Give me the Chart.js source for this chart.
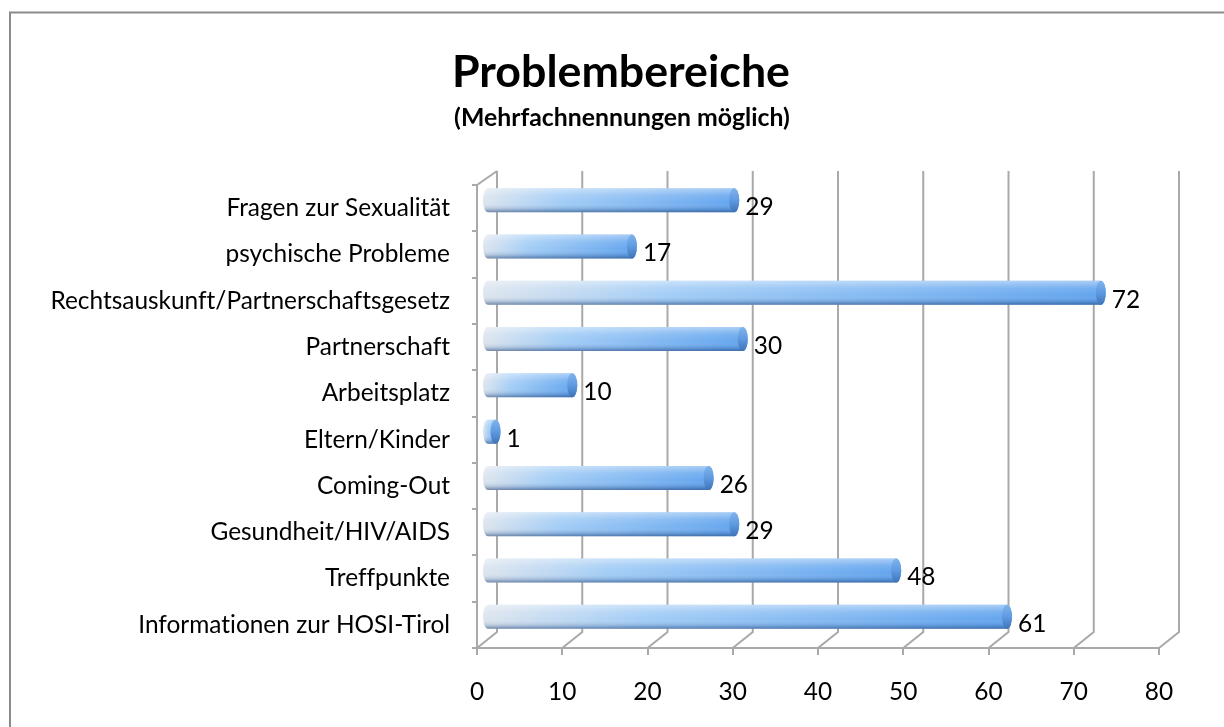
<!DOCTYPE html>
<html>
<head>
<meta charset="utf-8">
<script src="https://cdn.jsdelivr.net/npm/chart.js@4.4.1/dist/chart.umd.min.js"></script>
<style>
    html, body { margin: 0; padding: 0; background: #fff; }
    #wrap { width: 1224px; height: 727px; }
</style>
</head>
<body>
<div id="wrap"><canvas id="problemChart" width="1224" height="727"></canvas></div>
<script>
// ==================== DONNÉES ====================
const kategorien = [
    "Fragen zur Sexualität",
    "psychische Probleme",
    "Rechtsauskunft/Partnerschaftsgesetz",
    "Partnerschaft",
    "Arbeitsplatz",
    "Eltern/Kinder",
    "Coming-Out",
    "Gesundheit/HIV/AIDS",
    "Treffpunkte",
    "Informationen zur HOSI-Tirol"
];
const nennungen = [29, 17, 72, 30, 10, 1, 26, 29, 48, 61];
const achsenWerte = [0, 10, 20, 30, 40, 50, 60, 70, 80];

const titel = "Problembereiche";
const untertitel = "(Mehrfachnennungen möglich)";

// ==================== STYLE ====================
const FAMILIE = "Lato, 'Open Sans', sans-serif";
const GITTER = "#a9a9a9";
const TIEFE_X = 20;   // profondeur 3D
const TIEFE_Y = 16;

// taille de police ajustée sur une largeur cible
function passendeGroesse(text, gewicht, breite) {
    const c = document.createElement("canvas").getContext("2d");
    c.textRendering = "optimizeSpeed";
    c.font = gewicht + " 100px " + FAMILIE;
    return 100 * breite / c.measureText(text).width;
}

const schriftLabel = passendeGroesse("Informationen zur HOSI-Tirol", "normal", 312);
const schriftTitel = passendeGroesse(titel, "bold", 338);
const schriftUnter = passendeGroesse(untertitel, "bold", 336);

// ==================== CADRE + TITRES ====================
const rahmen = {
    id: "rahmen",
    beforeDraw(chart) {
        const ctx = chart.ctx;
        ctx.textRendering = "optimizeSpeed";   // pas de ligatures
        ctx.save();
        ctx.fillStyle = "#fff";
        ctx.fillRect(0, 0, chart.width, chart.height);
        ctx.strokeStyle = "#8a8a8a";
        ctx.lineWidth = 2;
        ctx.beginPath();
        ctx.moveTo(10, chart.height);
        ctx.lineTo(10, 12.5);
        ctx.lineTo(chart.width, 12.5);
        ctx.stroke();

        ctx.fillStyle = "#000";
        ctx.textAlign = "center";
        ctx.textBaseline = "alphabetic";
        ctx.font = "bold " + schriftTitel + "px " + FAMILIE;
        ctx.fillText(titel, 621, 87);
        ctx.font = "bold " + schriftUnter + "px " + FAMILIE;
        ctx.fillText(untertitel, 622, 126);
        ctx.restore();
    }
};

// ==================== PAROIS 3D ====================
const wand = {
    id: "wand",
    beforeDatasetsDraw(chart) {
        const ctx = chart.ctx;
        const xs = chart.scales.x;
        const { top, bottom, left } = chart.chartArea;
        ctx.save();
        ctx.strokeStyle = GITTER;
        ctx.lineWidth = 2;
        ctx.beginPath();
        for (const v of achsenWerte) {
            const fx = xs.getPixelForValue(v);
            ctx.moveTo(fx, bottom);
            ctx.lineTo(fx + TIEFE_X, bottom - TIEFE_Y);
            ctx.lineTo(fx + TIEFE_X, top - 14);
        }
        ctx.moveTo(left, top);
        ctx.lineTo(left + TIEFE_X, top - 14);
        ctx.stroke();
        ctx.restore();
    }
};

// ==================== CYLINDRES ====================
const zylinder = {
    id: "zylinder",
    afterDatasetsDraw(chart) {
        const ctx = chart.ctx;
        const meta = chart.getDatasetMeta(0);
        meta.data.forEach((bar, i) => {
            const p = bar.getProps(["x", "y", "base", "height"], true);
            const x0 = p.base + TIEFE_X / 2;
            const x1 = p.x + TIEFE_X / 2;
            const yc = p.y - TIEFE_Y / 2;
            const r = p.height / 2;
            const ex = 5;

            ctx.save();
            ctx.beginPath();
            ctx.moveTo(x0, yc - r);
            ctx.lineTo(x1, yc - r);
            ctx.ellipse(x1, yc, ex, r, 0, -Math.PI / 2, Math.PI / 2);
            ctx.lineTo(x0, yc + r);
            ctx.ellipse(x0, yc, ex, r, 0, Math.PI / 2, Math.PI * 1.5);
            ctx.closePath();

            const gh = ctx.createLinearGradient(x0 - ex, 0, x1 + ex, 0);
            gh.addColorStop(0, "#dde5ee");
            gh.addColorStop(0.3, "#a3cdf6");
            gh.addColorStop(1, "#62a4ee");
            ctx.fillStyle = gh;
            ctx.fill();

            const gv = ctx.createLinearGradient(0, yc - r, 0, yc + r);
            gv.addColorStop(0, "rgba(255,255,255,0.45)");
            gv.addColorStop(0.3, "rgba(255,255,255,0.12)");
            gv.addColorStop(0.6, "rgba(255,255,255,0)");
            gv.addColorStop(0.85, "rgba(30,70,130,0.18)");
            gv.addColorStop(1, "rgba(30,60,110,0.55)");
            ctx.fillStyle = gv;
            ctx.fill();

            // bout du cylindre
            ctx.beginPath();
            ctx.ellipse(x1, yc, ex, r, 0, 0, Math.PI * 2);
            const gc = ctx.createLinearGradient(0, yc - r, 0, yc + r);
            gc.addColorStop(0, "#7fb4ec");
            gc.addColorStop(0.5, "#5f9ae0");
            gc.addColorStop(1, "#3f73b8");
            ctx.fillStyle = gc;
            ctx.fill();

            // étiquette de valeur
            ctx.fillStyle = "#000";
            ctx.font = schriftLabel + "px " + FAMILIE;
            ctx.textAlign = "left";
            ctx.textBaseline = "middle";
            ctx.fillText(String(nennungen[i]), p.x + 21, p.y - 1);
            ctx.restore();
        });
    }
};

// ==================== GRAPHIQUE ====================
const chart = new Chart(document.getElementById("problemChart"), {
    type: "bar",
    data: {
        labels: kategorien,
        datasets: [{
            data: nennungen,
            backgroundColor: "rgba(0,0,0,0)",
            borderWidth: 0,
            barThickness: 24
        }]
    },
    options: {
        indexAxis: "y",
        responsive: false,
        animation: false,
        layout: { padding: { top: 185, left: 0, right: 65, bottom: 0 } },
        plugins: {
            legend: { display: false },
            tooltip: { enabled: false }
        },
        scales: {
            x: {
                min: 0,
                max: 80,
                afterBuildTicks: (s) => { s.ticks = achsenWerte.map(v => ({ value: v })); },
                afterFit: (s) => { s.height = 79; },
                grid: { drawOnChartArea: false, tickLength: 7, color: GITTER, lineWidth: 2 },
                border: { display: true, color: GITTER, width: 2 },
                ticks: {
                    color: "#000",
                    padding: 22,
                    font: { family: FAMILIE, size: schriftLabel }
                }
            },
            y: {
                afterFit: (s) => { s.width = 477; },
                grid: { drawOnChartArea: false, offset: true, tickLength: 5, color: GITTER, lineWidth: 2 },
                border: { display: true, color: GITTER, width: 2 },
                ticks: {
                    color: "#000",
                    padding: 22,
                    font: { family: FAMILIE, size: schriftLabel }
                }
            }
        }
    },
    plugins: [rahmen, wand, zylinder]
});
</script>
</body>
</html>
